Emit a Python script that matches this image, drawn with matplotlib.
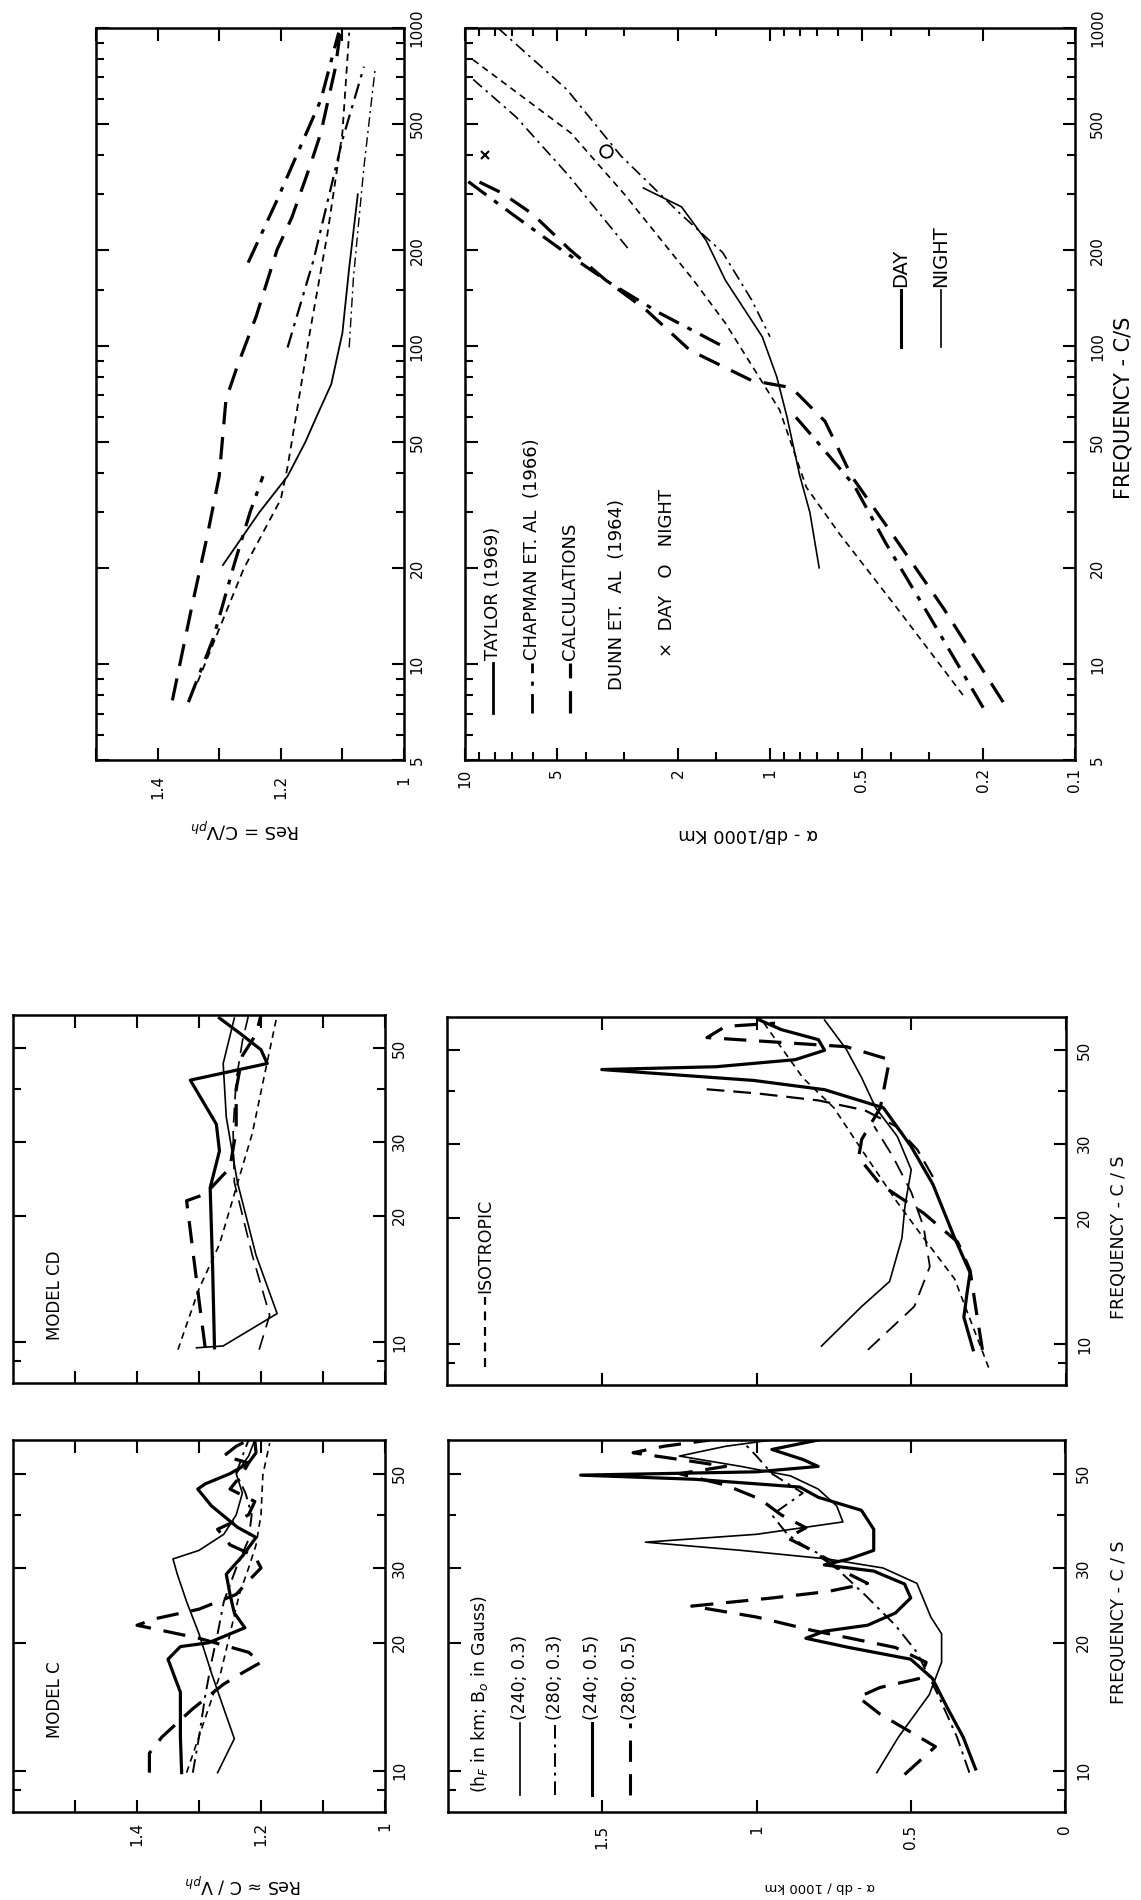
import matplotlib
matplotlib.use("Agg")
import matplotlib.pyplot as plt
from matplotlib.lines import Line2D
from matplotlib.ticker import NullFormatter

plt.rcParams['font.family'] = ['DejaVu Sans']

W, H = 1141, 1900

# ---------------- data (frequency in c/s, value) ----------------
# upper right figure: Re S (top panel)
RS_CALC_F = [7.7, 15, 25, 39, 68, 86, 124, 201, 254, 366, 468, 756, 990]
RS_CALC_V = [1.376, 1.345, 1.32, 1.30, 1.289, 1.271, 1.24, 1.206, 1.182, 1.153, 1.135, 1.111, 1.103]
RS_DD_HI_F = [183, 288, 594, 967]
RS_DD_HI_V = [1.253, 1.206, 1.135, 1.106]
RS_CHAP_F = [7.6, 12, 20.5, 30, 39]
RS_CHAP_V = [1.35, 1.31, 1.276, 1.25, 1.229]
RS_DD2_F = [99, 186, 445, 756]
RS_DD2_V = [1.189, 1.147, 1.10, 1.065]
RS_DASH_F = [8.8, 20, 33, 41.7, 110, 227, 468, 967]
RS_DASH_V = [1.335, 1.26, 1.20, 1.189, 1.153, 1.124, 1.10, 1.089]
RS_TAYLOR_F = [20.5, 30, 39, 50, 60, 76, 110, 176, 300]
RS_TAYLOR_V = [1.294, 1.235, 1.189, 1.160, 1.142, 1.118, 1.10, 1.089, 1.075]
RS_DDT_F = [99, 165, 366, 740]
RS_DDT_V = [1.089, 1.082, 1.065, 1.047]

# upper right figure: attenuation (dB/1000 km)
AT_CALC_F = [7.6, 15, 25, 39, 58, 74, 78, 97, 130, 161, 201, 260, 303, 340]
AT_CALC_V = [0.172, 0.27, 0.39, 0.54, 0.66, 0.85, 1.15, 1.83, 2.55, 3.45, 4.53, 6.0, 7.57, 9.7]
AT_CHAP_LO_F = [7.3, 14, 24, 36.5, 50, 62]
AT_CHAP_LO_V = [0.20, 0.298, 0.417, 0.53, 0.70, 0.85]
AT_CHAP_HI_F = [101, 127, 158, 200, 260, 330]
AT_CHAP_HI_V = [1.46, 2.3, 3.35, 4.8, 7.0, 9.8]
AT_TAYLOR_F = [20.1, 30, 39.4, 60, 80, 107, 161, 215, 274, 314]
AT_TAYLOR_V = [0.69, 0.74, 0.80, 0.88, 0.95, 1.06, 1.40, 1.62, 1.95, 2.6]
AT_DASH_F = [8, 15, 25.6, 36, 63, 118, 161, 300, 468, 800]
AT_DASH_V = [0.233, 0.383, 0.59, 0.76, 0.93, 1.4, 1.78, 3.0, 4.5, 9.5]
AT_DDN_F = [1000, 640, 396, 262, 197, 140, 107]
AT_DDN_V = [7.8, 4.63, 3.08, 1.98, 1.43, 1.15, 1.0]
AT_DD2_F = [689, 525, 346, 201]
AT_DD2_V = [9.4, 6.8, 4.6, 2.9]
DUNN_DAY_F, DUNN_DAY_V = [400], [8.6]
DUNN_NIGHT_F, DUNN_NIGHT_V = [410], [3.45]

# Model C: Re S
MC_TS_F = [9.9, 12, 15.3, 18.3, 19.6, 20, 21.7, 23.5, 26, 29, 32, 35.4, 37.4, 42, 46, 47.3, 50, 53, 56, 60]
MC_TS_V = [1.328, 1.33, 1.33, 1.35, 1.33, 1.285, 1.226, 1.243, 1.25, 1.256, 1.23, 1.208, 1.238, 1.28, 1.302, 1.29, 1.25, 1.22, 1.208, 1.21]
MC_NS_F = [9.9, 11.9, 14, 17, 21, 25, 29, 31.5, 33, 36, 40, 45, 50, 55, 60]
MC_NS_V = [1.27, 1.243, 1.26, 1.28, 1.30, 1.32, 1.335, 1.342, 1.30, 1.26, 1.24, 1.23, 1.24, 1.22, 1.21]
MC_TD_F = [9.9, 11, 12, 14, 16, 17, 18, 19, 20.5, 22, 22.8, 24, 26, 28, 30, 32, 34, 37, 40, 43, 46, 50, 53, 55, 58, 60]
MC_TD_V = [1.38, 1.38, 1.36, 1.31, 1.26, 1.23, 1.20, 1.22, 1.30, 1.40, 1.37, 1.30, 1.24, 1.22, 1.20, 1.21, 1.25, 1.27, 1.22, 1.21, 1.25, 1.23, 1.22, 1.26, 1.24, 1.22]
MC_ND_F = [9.9, 13.3, 17, 21, 26, 30, 34, 40, 49.7, 59]
MC_ND_V = [1.32, 1.29, 1.265, 1.25, 1.235, 1.22, 1.208, 1.20, 1.197, 1.186]
MC_DD_F = [9.9, 12, 15, 18, 21, 25, 30, 35, 40, 45, 50, 55, 60]
MC_DD_V = [1.31, 1.30, 1.29, 1.28, 1.27, 1.26, 1.24, 1.22, 1.215, 1.225, 1.24, 1.23, 1.22]

# Model C: attenuation
MA_TS_F = [10.1, 12, 14, 16.5, 18.3, 19.5, 20.5, 21.3, 22, 23.5, 25.5, 27.5, 29.5, 30.5, 31.5, 33, 37, 41, 44, 46.5, 48.5, 49.6, 50.5, 52, 54, 57, 60]
MA_TS_V = [0.29, 0.33, 0.38, 0.43, 0.50, 0.70, 0.84, 0.78, 0.64, 0.55, 0.50, 0.52, 0.62, 0.78, 0.70, 0.62, 0.62, 0.66, 0.80, 0.86, 1.20, 1.57, 1.0, 0.80, 0.85, 0.95, 0.80]
MA_NS_F = [9.9, 12, 15.1, 18, 21, 23, 27.6, 30, 31.5, 33, 34.5, 36, 38.5, 42, 46, 49.4, 52, 55, 58, 60]
MA_NS_V = [0.61, 0.54, 0.44, 0.40, 0.40, 0.435, 0.48, 0.59, 0.77, 1.05, 1.36, 1.0, 0.72, 0.74, 0.80, 0.89, 1.05, 1.25, 1.1, 0.95]
MA_TD_F = [9.8, 11.4, 13.6, 14.9, 15.7, 16.5, 18, 19.5, 21.4, 23, 24.4, 25.5, 26.4, 27.6, 30, 33, 35.3, 37.3, 40, 43.6, 47, 50, 52, 54, 56, 58, 60]
MA_TD_V = [0.52, 0.42, 0.60, 0.67, 0.60, 0.47, 0.45, 0.55, 0.82, 1.0, 1.21, 0.95, 0.77, 0.64, 0.74, 0.82, 0.90, 0.84, 0.92, 0.99, 1.10, 1.25, 1.10, 1.25, 1.40, 1.30, 1.15]
MA_DD_F = [9.9, 12, 15, 19, 22, 26, 29, 31, 34, 36, 40, 45, 50, 55, 60]
MA_DD_V = [0.31, 0.35, 0.41, 0.48, 0.55, 0.65, 0.72, 0.75, 0.85, 0.90, 0.95, 0.85, 0.95, 1.0, 1.05]

# Model CD: Re S
CD_NS_F = [9.7, 9.8, 11.7, 16.1, 24, 34.3, 46, 59]
CD_NS_V = [1.304, 1.261, 1.174, 1.208, 1.238, 1.256, 1.261, 1.243]
CD_TS_F = [9.7, 15, 23.3, 28.5, 33, 42, 46, 49.6, 54, 59]
CD_TS_V = [1.275, 1.278, 1.282, 1.267, 1.272, 1.314, 1.19, 1.2, 1.232, 1.267]
CD_TD_F = [9.7, 12.6, 21.7, 22.5, 26, 32, 40, 48, 54, 60]
CD_TD_V = [1.29, 1.30, 1.32, 1.29, 1.25, 1.24, 1.24, 1.23, 1.208, 1.20]
CD_LD_F = [9.6, 11.6, 16.1, 24, 32, 42, 52, 60]
CD_LD_V = [1.203, 1.186, 1.214, 1.243, 1.245, 1.24, 1.23, 1.22]
CD_ND_F = [9.6, 13.4, 17.1, 31.4, 41.4, 60]
CD_ND_V = [1.334, 1.30, 1.267, 1.214, 1.197, 1.174]

# Model CD: attenuation (isotropic panel)
IS_TS_F = [9.7, 11.6, 13.2, 14.8, 17.9, 24, 29.5, 36.5, 40.3, 42.4, 45, 45.7, 47.5, 50, 53, 56, 59]
IS_TS_V = [0.30, 0.33, 0.32, 0.31, 0.36, 0.43, 0.50, 0.59, 0.78, 1.01, 1.5, 1.13, 0.875, 0.78, 0.80, 0.92, 0.99]
IS_TD_F = [9.7, 12, 15, 17.5, 20.5, 24, 27.8, 30.7, 36.5, 47.5, 51, 53.6, 57, 58]
IS_TD_V = [0.27, 0.29, 0.31, 0.35, 0.46, 0.60, 0.67, 0.66, 0.60, 0.57, 0.71, 1.16, 1.10, 0.94]
IS_NS_F = [9.9, 12.3, 14.1, 17.9, 21.4, 26, 31.2, 36.5, 43, 50.3, 59]
IS_NS_V = [0.79, 0.66, 0.57, 0.53, 0.52, 0.50, 0.545, 0.615, 0.66, 0.71, 0.78]
IS_LD_F = [9.7, 12.3, 15.3, 19, 23, 28, 33]
IS_LD_V = [0.64, 0.49, 0.44, 0.46, 0.50, 0.56, 0.62]
IS_LD2_F = [25, 29, 33, 36, 38, 39.5, 40.5]
IS_LD2_V = [0.43, 0.48, 0.55, 0.65, 0.80, 1.0, 1.18]
IS_ISO_F = [8.8, 14.3, 18.3, 22, 29, 36.5, 43, 52, 60]
IS_ISO_V = [0.25, 0.36, 0.47, 0.55, 0.66, 0.75, 0.85, 0.93, 0.99]

# ticks
F_WIDE_MAJOR = [5, 10, 20, 50, 100, 200, 500, 1000]
F_WIDE_MINOR = [6, 7, 8, 9, 30, 40, 60, 70, 80, 90, 150, 300, 400, 600, 700, 800, 900]
F_NARROW_MAJOR = [10, 20, 30, 50]
F_NARROW_MINOR = [9, 40]
RES_TICKS = [1.5, 1.4, 1.3, 1.2, 1.1, 1.0]
RES_LABELS = ['', '1.4', '', '1.2', '', '1']
ATT_LOG_MAJOR = [10, 5, 2, 1, 0.5, 0.2, 0.1]
ATT_LOG_MINOR = [9, 8, 7, 6, 4, 3, 1.5, 0.9, 0.8, 0.7, 0.6, 0.4, 0.3]
ATT_LIN_TICKS = [1.5, 1.0, 0.5, 0.0]
ATT_LIN_LABELS = ['1.5', '1', '0.5', '0']

# ---------------- styles ----------------
THICK = 2.3
THIN = 1.0
S_SOLID = '-'
S_LDASH = (0, (7, 4))
S_DDOT = (0, (7, 3, 1.5, 3))
S_SDASH = (0, (4, 3))
TICK_FS = 11

fig = plt.figure(figsize=(W / 100, H / 100), dpi=100)


def px_axes(left, right, top, bottom):
    return fig.add_axes([left / W, 1 - bottom / H, (right - left) / W, (bottom - top) / H])


def fx(x):
    return x / W


def fy(y):
    return 1 - y / H


def setup(ax, xlim, ylim, xlog, fmaj, fmin, xt, xlabels, xminor=None,
          show_x=True, fpad=4, xpad=8):
    ax.set_yscale('log')
    if xlog:
        ax.set_xscale('log')
    ax.set_xlim(*xlim)
    ax.set_ylim(*ylim)
    ax.set_yticks(fmaj, [str(v) for v in fmaj])
    ax.set_yticks(fmin, minor=True)
    ax.yaxis.set_minor_formatter(NullFormatter())
    ax.set_xticks(xt, xlabels)
    if xminor is not None:
        ax.set_xticks(xminor, minor=True)
        ax.xaxis.set_minor_formatter(NullFormatter())
    else:
        ax.set_xticks([], minor=True)
    ax.tick_params(axis='y', which='both', left=True, right=True, labelleft=False,
                   labelright=True, direction='in', width=1.5, labelrotation=90,
                   labelsize=TICK_FS, pad=fpad)
    ax.tick_params(axis='y', which='major', length=9)
    ax.tick_params(axis='y', which='minor', length=6)
    ax.tick_params(axis='x', which='both', bottom=True, top=True, labelbottom=show_x,
                   direction='in', width=1.5, labelrotation=90, labelsize=TICK_FS, pad=xpad)
    ax.tick_params(axis='x', which='major', length=9)
    ax.tick_params(axis='x', which='minor', length=6)
    for lab in ax.get_yticklabels():
        lab.set_verticalalignment('center')
        lab.set_horizontalalignment('left')
    for sp in ax.spines.values():
        sp.set_linewidth(1.8)


def legend_line(x, y0, y1, ls, lw):
    fig.add_artist(Line2D([fx(x), fx(x)], [fy(y0), fy(y1)], transform=fig.transFigure,
                          color='black', linestyle=ls, linewidth=lw))


def vtext(x, y, s, size=13, va='bottom'):
    fig.text(fx(x), fy(y), s, rotation=90, ha='center', va=va, fontsize=size)


# ---------------- upper figure: Re S ----------------
ax = px_axes(96, 404, 28, 760)
setup(ax, (1.5, 1.0), (5, 1000), False, F_WIDE_MAJOR, F_WIDE_MINOR,
      RES_TICKS, RES_LABELS, fpad=4, xpad=11)
ax.plot(RS_CALC_V, RS_CALC_F, color='k', lw=THICK, ls=S_LDASH)
ax.plot(RS_DD_HI_V, RS_DD_HI_F, color='k', lw=THICK, ls=S_DDOT)
ax.plot(RS_CHAP_V, RS_CHAP_F, color='k', lw=THICK, ls=S_DDOT)
ax.plot(RS_DD2_V, RS_DD2_F, color='k', lw=1.6, ls=S_DDOT)
ax.plot(RS_DASH_V, RS_DASH_F, color='k', lw=THIN + 0.3, ls=S_SDASH)
ax.plot(RS_TAYLOR_V, RS_TAYLOR_F, color='k', lw=THIN + 0.3, ls=S_SOLID)
ax.plot(RS_DDT_V, RS_DDT_F, color='k', lw=THIN, ls=S_DDOT)
fig.text(fx(245), fy(828), 'ReS = C/V$_{ph}$', rotation=180, ha='center', va='center', fontsize=13)

# ---------------- upper figure: attenuation ----------------
ax = px_axes(465, 1075, 28, 760)
setup(ax, (10, 0.1), (5, 1000), True, F_WIDE_MAJOR, F_WIDE_MINOR,
      ATT_LOG_MAJOR, [str(v) for v in ATT_LOG_MAJOR], xminor=ATT_LOG_MINOR,
      fpad=11, xpad=6)
ax.plot(AT_CALC_V, AT_CALC_F, color='k', lw=THICK, ls=S_LDASH)
ax.plot(AT_CHAP_LO_V, AT_CHAP_LO_F, color='k', lw=THICK, ls=S_DDOT)
ax.plot(AT_CHAP_HI_V, AT_CHAP_HI_F, color='k', lw=THICK, ls=S_DDOT)
ax.plot(AT_TAYLOR_V, AT_TAYLOR_F, color='k', lw=THIN + 0.2, ls=S_SOLID)
ax.plot(AT_DASH_V, AT_DASH_F, color='k', lw=THIN + 0.2, ls=S_SDASH)
ax.plot(AT_DDN_V, AT_DDN_F, color='k', lw=THIN + 0.2, ls=S_DDOT)
ax.plot(AT_DD2_V, AT_DD2_F, color='k', lw=THIN + 0.2, ls=S_DDOT)
ax.plot(DUNN_DAY_V, DUNN_DAY_F, 'x', color='k', ms=6, mew=1.5)
ax.plot(DUNN_NIGHT_V, DUNN_NIGHT_F, 'o', color='k', mfc='white', ms=9, mew=1.3)
fig.text(fx(1124), fy(408), 'FREQUENCY - C/S', rotation=90, ha='center', va='center', fontsize=15)
fig.text(fx(748), fy(835), 'α - dB/1000 Km', rotation=180, ha='center', va='center', fontsize=13)

legend_line(493, 713, 663, S_SOLID, 2.0)
vtext(493, 660, 'TAYLOR (1969)')
legend_line(532, 713, 663, S_DDOT, 2.0)
vtext(532, 660, 'CHAPMAN ET. AL  (1966)')
legend_line(570, 713, 663, S_LDASH, 2.3)
vtext(570, 660, 'CALCULATIONS')
vtext(617, 690, 'DUNN ET.  AL  (1964)')
vtext(667, 657, '×  DAY   O   NIGHT')
legend_line(901, 347, 290, S_SOLID, 2.2)
vtext(901, 287, 'DAY', size=14)
legend_line(941, 347, 290, S_SOLID, 1.2)
vtext(941, 287, 'NIGHT', size=14)

# ---------------- Model CD: Re S ----------------
ax = px_axes(13, 385, 1015, 1383)
setup(ax, (1.6, 1.0), (8, 60), False, F_NARROW_MAJOR, F_NARROW_MINOR,
      RES_TICKS, [''] * len(RES_TICKS), show_x=False, fpad=5)
ax.plot(CD_NS_V, CD_NS_F, color='k', lw=THIN + 0.2, ls=S_SOLID)
ax.plot(CD_TS_V, CD_TS_F, color='k', lw=THICK, ls=S_SOLID)
ax.plot(CD_TD_V, CD_TD_F, color='k', lw=THICK, ls=S_LDASH)
ax.plot(CD_LD_V, CD_LD_F, color='k', lw=THIN + 0.2, ls=(0, (9, 5)))
ax.plot(CD_ND_V, CD_ND_F, color='k', lw=THIN + 0.2, ls=S_SDASH)
vtext(55, 1295, 'MODEL CD', size=12, va='center')

# ---------------- Model CD: attenuation (isotropic) ----------------
ax = px_axes(447, 1066, 1017, 1385)
setup(ax, (2.0, 0.0), (8, 60), False, F_NARROW_MAJOR, F_NARROW_MINOR,
      ATT_LIN_TICKS, [''] * len(ATT_LIN_TICKS), show_x=False, fpad=8)
ax.plot(IS_TS_V, IS_TS_F, color='k', lw=THICK, ls=S_SOLID)
ax.plot(IS_TD_V, IS_TD_F, color='k', lw=THICK, ls=S_LDASH)
ax.plot(IS_NS_V, IS_NS_F, color='k', lw=THIN + 0.2, ls=S_SOLID)
ax.plot(IS_LD_V, IS_LD_F, color='k', lw=THIN + 0.3, ls=(0, (9, 5)))
ax.plot(IS_LD2_V, IS_LD2_F, color='k', lw=THIN + 0.6, ls=(0, (8, 4)))
ax.plot(IS_ISO_V, IS_ISO_F, color='k', lw=THIN + 0.2, ls=S_SDASH)
fig.text(fx(1119), fy(1237), 'FREQUENCY - C / S', rotation=90, ha='center', va='center', fontsize=12.5)
legend_line(485, 1367, 1297, S_SDASH, 1.6)
vtext(485, 1293, 'ISOTROPIC', size=12.5)

# ---------------- Model C: Re S ----------------
ax = px_axes(13, 385, 1440, 1812)
setup(ax, (1.6, 1.0), (8, 60), False, F_NARROW_MAJOR, F_NARROW_MINOR,
      RES_TICKS, RES_LABELS, fpad=5, xpad=7)
ax.plot(MC_TS_V, MC_TS_F, color='k', lw=THICK, ls=S_SOLID)
ax.plot(MC_NS_V, MC_NS_F, color='k', lw=THIN + 0.2, ls=S_SOLID)
ax.plot(MC_TD_V, MC_TD_F, color='k', lw=THICK, ls=S_LDASH)
ax.plot(MC_ND_V, MC_ND_F, color='k', lw=THIN + 0.2, ls=S_SDASH)
ax.plot(MC_DD_V, MC_DD_F, color='k', lw=THIN + 0.4, ls=S_DDOT)
vtext(55, 1700, 'MODEL C', size=12, va='center')
fig.text(fx(243), fy(1883), 'ReS ≈ C / V$_{ph}$', rotation=180, ha='center', va='center', fontsize=12.5)

# ---------------- Model C: attenuation ----------------
ax = px_axes(448, 1065, 1440, 1812)
setup(ax, (2.0, 0.0), (8, 60), False, F_NARROW_MAJOR, F_NARROW_MINOR,
      ATT_LIN_TICKS, ATT_LIN_LABELS, fpad=8, xpad=9)
ax.plot(MA_TS_V, MA_TS_F, color='k', lw=THICK, ls=S_SOLID)
ax.plot(MA_NS_V, MA_NS_F, color='k', lw=THIN + 0.2, ls=S_SOLID)
ax.plot(MA_TD_V, MA_TD_F, color='k', lw=THICK, ls=S_LDASH)
ax.plot(MA_DD_V, MA_DD_F, color='k', lw=THIN + 0.4, ls=S_DDOT)
fig.text(fx(1119), fy(1622), 'FREQUENCY - C / S', rotation=90, ha='center', va='center', fontsize=12.5)
fig.text(fx(820), fy(1887), 'α - db / 1000 km', rotation=180, ha='center', va='center', fontsize=9.5)

vtext(480, 1793, '(h$_F$ in km; B$_o$ in Gauss)', size=12.5)
legend_line(520, 1795, 1723, S_SOLID, 1.2)
vtext(520, 1720, '(240; 0.3)', size=12.5)
legend_line(555, 1795, 1723, S_DDOT, 1.4)
vtext(555, 1720, '(280; 0.3)', size=12.5)
legend_line(592, 1795, 1723, S_SOLID, 2.2)
vtext(592, 1720, '(240; 0.5)', size=12.5)
legend_line(630, 1795, 1723, S_LDASH, 2.2)
vtext(630, 1720, '(280; 0.5)', size=12.5)

fig.savefig('out.png', dpi=100, facecolor='white')
